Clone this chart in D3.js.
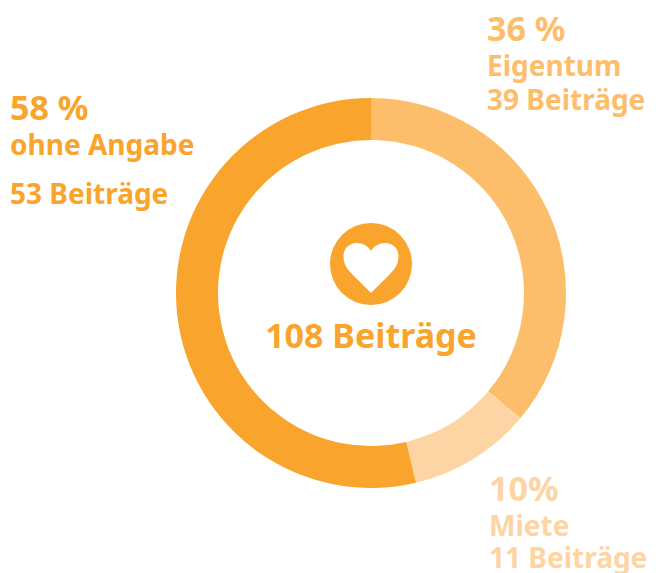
<!DOCTYPE html>
<html lang="de">
<head>
<meta charset="utf-8">
<script src="https://cdn.jsdelivr.net/npm/d3@7/dist/d3.min.js"></script>
<style>
html,body{margin:0;padding:0;background:#fff}
svg{display:block}
text{font-family:"Noto Sans",sans-serif;font-weight:700}
</style>
</head>
<body>
<svg id="c" width="656" height="573"></svg>
<script>
const categories = ["Eigentum", "Miete", "ohne Angabe"];
const values = [39, 11, 58];
const percentLabels = ["36 %", "10%", "58 %"];
const countLabels = ["39 Beiträge", "11 Beiträge", "53 Beiträge"];
const centerLabel = "108 Beiträge";
const colors = ["#FDBE6B", "#FDD5A4", "#F9A42C"];

const svg = d3.select("#c");
const cx = 371, cy = 293;
const color = d3.scaleOrdinal(categories, colors);
const pie = d3.pie().sort(null)(values);
const arc = d3.arc().innerRadius(153).outerRadius(195);

svg.append("g").attr("transform", `translate(${cx},${cy})`)
  .selectAll("path").data(pie).join("path")
  .attr("d", arc)
  .attr("fill", (d, i) => color(categories[i]));

// label layout: [x, percent baseline, category baseline, count baseline]
const layout = [
  [487, 41, 76, 110],
  [489, 501, 536, 568],
  [10, 120, 155, 204]
];
const g = svg.append("g");
categories.forEach((c, i) => {
  const [x, y0, y1, y2] = layout[i];
  const f = color(c);
  g.append("text").attr("x", x).attr("y", y0).attr("fill", f).attr("font-size", 34).text(percentLabels[i]);
  g.append("text").attr("x", x).attr("y", y1).attr("fill", f).attr("font-size", 28).text(c);
  g.append("text").attr("x", x).attr("y", y2).attr("fill", f).attr("font-size", 28).text(countLabels[i]);
});

// centre icon
const main = colors[2];
svg.append("circle").attr("cx", cx).attr("cy", 264).attr("r", 41).attr("fill", main);
svg.append("path")
  .attr("transform", `translate(${cx},264)`)
  .attr("d", "M0,29 C-3,26 -12,17 -19,10 C-24,5 -27.5,0 -27.5,-8 C-27.5,-16 -21,-21 -14.5,-21 C-8,-21 -3,-18 0,-13 C3,-18 8,-21 14.5,-21 C21,-21 27.5,-16 27.5,-8 C27.5,0 24,5 19,10 C12,17 3,26 0,29 Z")
  .attr("fill", "#fff");
svg.append("text").attr("x", cx).attr("y", 348).attr("text-anchor", "middle")
  .attr("fill", main).attr("font-size", 34).text(centerLabel);
</script>
</body>
</html>
